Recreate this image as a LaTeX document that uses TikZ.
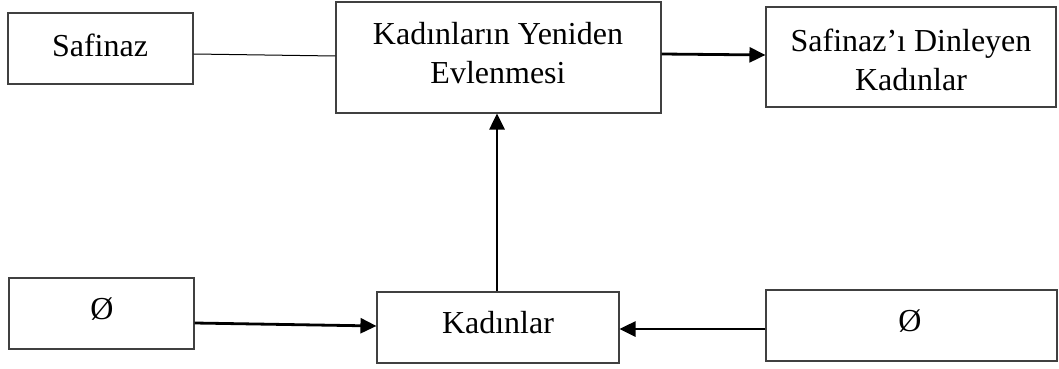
\documentclass[tikz,border=0pt]{standalone}
\usepackage{fontspec}
\setmainfont{Liberation Serif}
\usetikzlibrary{arrows.meta}

\begin{document}
\begin{tikzpicture}[x=1pt, y=-1pt,
  box/.style={draw=black!75, line width=1.1pt, rectangle, inner sep=0pt},
  lbl/.style={inner sep=0pt, align=center, font=\fontsize{32}{39}\selectfont},
  flow/.style={line width=2.8pt, -{Triangle[length=16pt,width=15pt]}},
  link/.style={line width=1pt}
]
\useasboundingbox (0,0) rectangle (1059,369);

% boxes
\node[box, minimum width=185pt, minimum height=71pt] (saf) at (100.5,48.5) {};
\node[box, minimum width=325pt, minimum height=111pt] (evl) at (498.5,57.5) {};
\node[box, minimum width=290pt, minimum height=100pt] (din) at (911,57) {};
\node[box, minimum width=185pt, minimum height=71pt] (ol) at (101.5,313.5) {};
\node[box, minimum width=242pt, minimum height=71pt] (kad) at (498,327.5) {};
\node[box, minimum width=291pt, minimum height=71pt] (or) at (911.5,325.5) {};

% texts
\node[lbl] (tsaf) at (100,45) {Safinaz};
\node[lbl] (tevl) at (498,53) {Kadınların Yeniden\\Evlenmesi};
\node[lbl] (tdin) at (911,60) {Safinaz’ı Dinleyen\\Kadınlar};
\node[lbl] (tol) at (102,309) {Ø};
\node[lbl] (tkad) at (498,323) {Kadınlar};
\node[lbl] (tor) at (910,321) {Ø};

% connectors
\draw[link] (saf.east |- 0,54) -- (evl.west |- 0,56);
\draw[flow] (evl.east |- 0,54) -- (din.west |- 0,55);
\draw[flow] (kad.north -| 497,0) -- (evl.south -| 497,0);
\draw[flow] (ol.east |- 0,323) -- (kad.west |- 0,326);
\draw[flow] (or.west |- 0,329) -- (kad.east |- 0,329);
\end{tikzpicture}
\end{document}
